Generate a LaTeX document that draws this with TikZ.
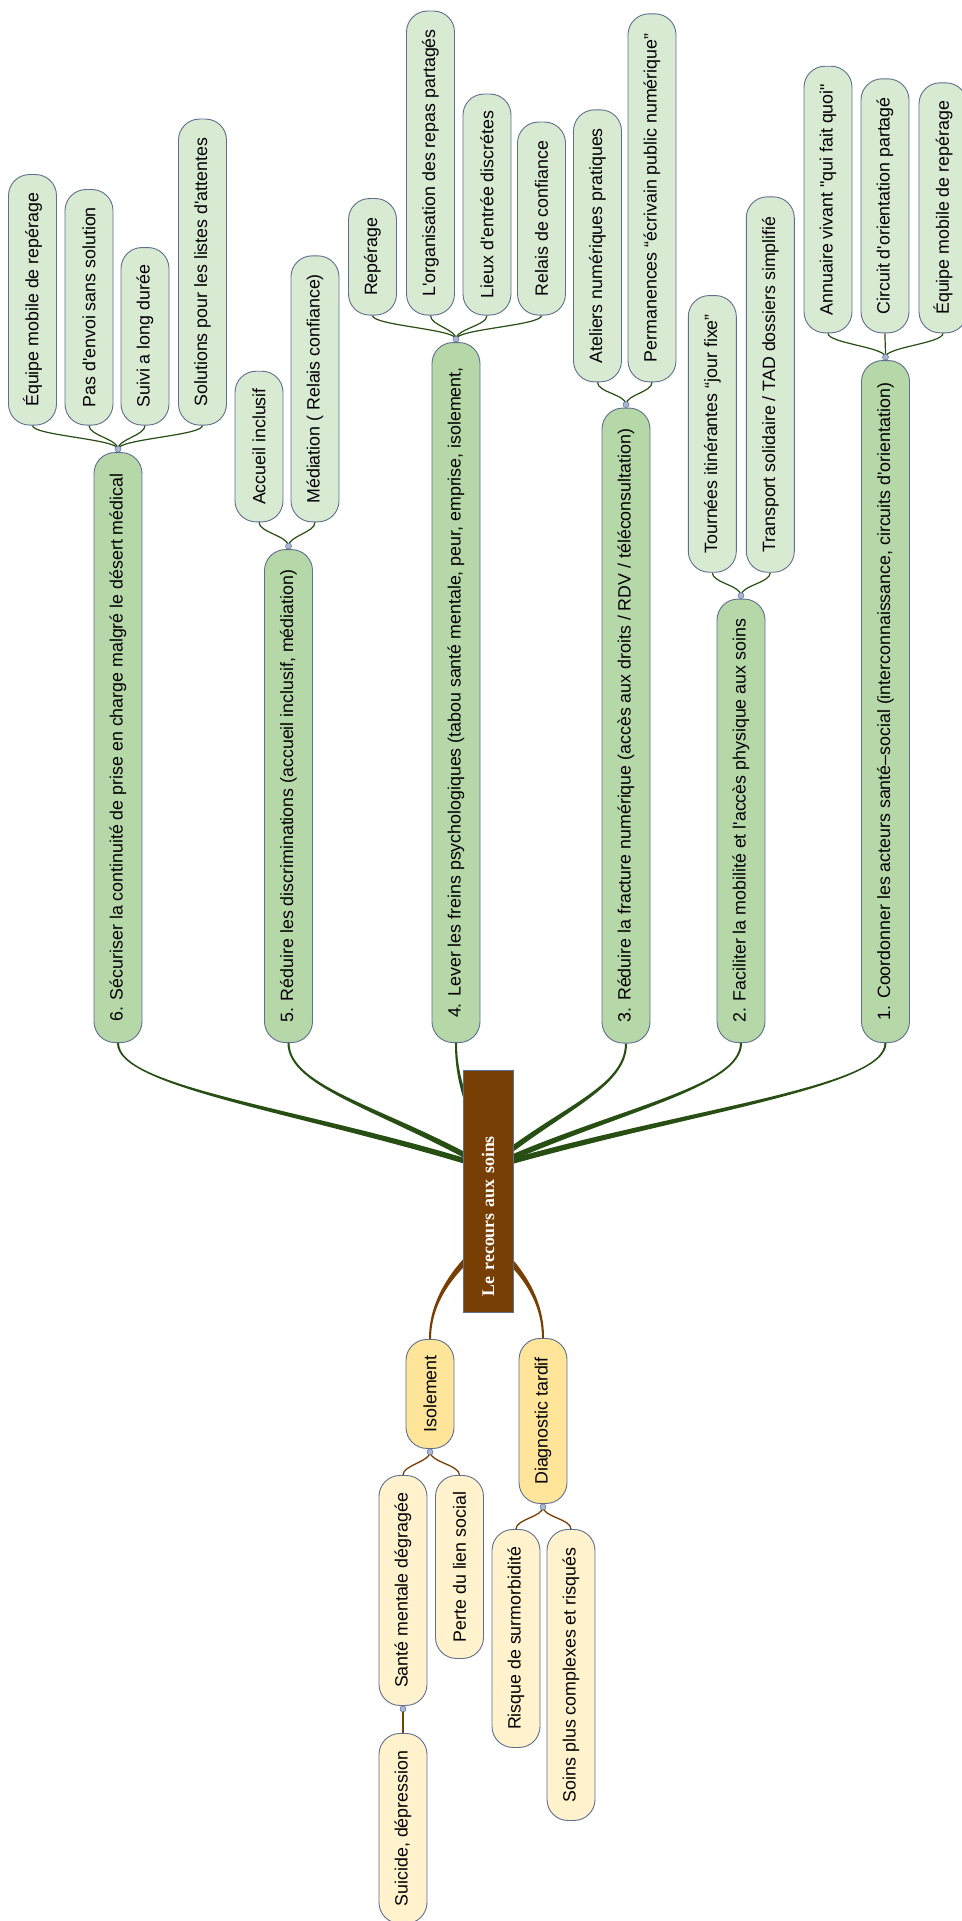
\documentclass[tikz,border=0pt]{standalone}
\usepackage{fontspec}
\setmainfont{Liberation Sans}[Ligatures=TeXOff]
\newfontfamily\boxfont{Liberation Serif}[Ligatures=TeXOff]
\usetikzlibrary{calc}
\definecolor{mg}{HTML}{B6D7A8}
\definecolor{lg}{HTML}{D9EAD3}
\definecolor{ytwo}{HTML}{FFE599}
\definecolor{ythree}{HTML}{FFF2CC}
\definecolor{brn}{HTML}{783F04}
\definecolor{dg}{HTML}{274E13}
\definecolor{bd}{HTML}{5F6F8F}
\definecolor{dotc}{HTML}{A9B8D6}
\pgfdeclarelayer{bgzero}
\pgfdeclarelayer{background}
\pgfsetlayers{bgzero,background,main}
% tapered branch: #1 tip, #2 tip control offset, #3 root control, #4 root, #5 colour, #6 half width at root
\newcommand{\tbranch}[6]{%
  \coordinate (tT) at (#1);
  \coordinate (tC) at ($(#1)+#2$);
  \fill[#5] ($(tT)!1pt!90:(tC)$) .. controls ($(tC)!1.2pt!-90:(tT)$) and ($(#3)!#6!90:(#4)$) .. ($(#4)!#6!-90:(#3)$)
    -- ($(#4)!#6!90:(#3)$) .. controls ($(#3)!#6!-90:(#4)$) and ($(tC)!1.2pt!90:(tT)$) .. ($(tT)!1pt!-90:(tC)$) -- cycle;}
\begin{document}
\begin{tikzpicture}[x=1pt,y=-1pt,
  pill/.style={draw=bd, line width=0.9pt, rounded corners=21pt, rotate=90, minimum height=48pt,
    inner xsep=4pt, inner ysep=0pt, font=\fontsize{17.8}{20}\selectfont, text=black},
  mainb/.style={pill, fill=mg, anchor=west},
  leafb/.style={pill, fill=lg, anchor=west},
  yelb/.style={pill, fill=ytwo, anchor=east},
  yleaf/.style={pill, fill=ythree, anchor=east},
  dotn/.style={circle, inner sep=0pt, minimum size=6pt, fill=dotc, draw=bd, line width=0.5pt},
  gthin/.style={draw=dg, line width=1.2pt},
  bthin/.style={draw=brn, line width=1.3pt},
]
\useasboundingbox (0,0) rectangle (961,1921);
\begin{pgfonlayer}{bgzero}
\fill[white] (0,0) rectangle (961,1921);
\end{pgfonlayer}

% main branches
\node[mainb, minimum width=590pt] (b6) at (118,1043) {6. Sécuriser la continuité de prise en charge malgré le désert médical};
\node[mainb, minimum width=493pt] (b5) at (288.5,1043) {5. Réduire les discriminations (accueil inclusif, médiation)};
\node[mainb, minimum width=700pt] (b4) at (456,1043) {4. Lever les freins psychologiques (tabou santé mentale, peur, emprise, isolement,};
\node[mainb, minimum width=635pt] (b3) at (626,1043.5) {3. Réduire la fracture numérique (accès aux droits / RDV / téléconsultation)};
\node[mainb, minimum width=443.5pt] (b2) at (741,1043) {2. Faciliter la mobilité et l'accès physique aux soins};
\node[mainb, minimum width=682pt] (b1) at (885.5,1043) {1. Coordonner les acteurs santé–social (interconnaissance, circuits d'orientation)};

% leaves of 6
\node[leafb, minimum width=250.5pt] (l61) at (32.5,425.5) {Équipe mobile de repérage};
\node[leafb, minimum width=235.5pt] (l62) at (89,425.5) {Pas d'envoi sans solution};
\node[leafb, minimum width=177.5pt] (l63) at (145,425.5) {Suivi a long durée};
\node[leafb, minimum width=306pt] (l64) at (202.5,425.5) {Solutions pour les listes d'attentes};
% leaves of 5
\node[leafb, minimum width=150.6pt] (l51) at (259,522.3) {Accueil inclusif};
\node[leafb, minimum width=266pt] (l52) at (315,522.3) {Médiation ( Relais confiance)};
% leaves of 4
\node[leafb, minimum width=116.5pt] (l41) at (372.5,315.5) {Repérage};
\node[leafb, minimum width=304pt] (l42) at (430.5,315.5) {L'organisation des repas partagés};
\node[leafb, minimum width=221pt] (l43) at (487,315.5) {Lieux d'entrée discrétes};
\node[leafb, minimum width=193pt] (l44) at (541.5,315.5) {Relais de confiance};
% leaves of 3
\node[leafb, minimum width=272pt] (l31) at (597.5,382.3) {Ateliers numériques pratiques};
\node[leafb, minimum width=368pt] (l32) at (652,382.3) {Permanences “écrivain public numérique”};
% leaves of 2
\node[leafb, minimum width=276.7pt] (l21) at (712.3,572.7) {Tournées itinérantes “jour fixe”};
\node[leafb, minimum width=375.4pt] (l22) at (770.3,572.7) {Transport solidaire / TAD dossiers simplifié};
% leaves of 1
\node[leafb, minimum width=266.6pt] (l11) at (828,333.3) {Annuaire vivant "qui fait quoi"};
\node[leafb, minimum width=254pt] (l12) at (885,333.3) {Circuit d'orientation partagé};
\node[leafb, minimum width=250pt] (l13) at (943,333.3) {Équipe mobile de repérage};

% lower part
\node[yelb, minimum width=109pt] (iso) at (430,1339) {Isolement};
\node[yelb, minimum width=165pt] (diag) at (543,1338) {Diagnostic tardif};
\node[yleaf, minimum width=230pt] (s1) at (403,1475) {Santé mentale dégragée};
\node[yleaf, minimum width=183pt] (s2) at (459.5,1475) {Perte du lien social};
\node[yleaf, minimum width=218pt] (s3) at (516,1529) {Risque de surmorbidité};
\node[yleaf, minimum width=291pt] (s4) at (571,1529) {Soins plus complexes et risqués};
\node[yleaf, minimum width=190pt] (s5) at (403,1733) {Suicide, dépression};

% central box
\node[draw=bd, line width=0.8pt, fill=brn, rotate=90, minimum width=242pt, minimum height=50pt,
  text width=210pt, align=left, inner xsep=16pt, inner ysep=0pt,
  font=\boxfont\bfseries\fontsize{17.8}{20}\selectfont, text=white] (root) at (488,1191) {Le recours aux soins};

% dots
\node[dotn] (d6) at ($(b6.east)+(0,-3)$) {};
\node[dotn] (d5) at ($(b5.east)+(0,-3)$) {};
\node[dotn] (d4) at ($(b4.east)+(0,-3)$) {};
\node[dotn] (d3) at ($(b3.east)+(0,-3)$) {};
\node[dotn] (d2) at ($(b2.east)+(0,-3)$) {};
\node[dotn] (d1) at ($(b1.east)+(0,-3)$) {};
\node[dotn] (di) at ($(iso.west)+(0,3)$) {};
\node[dotn] (dd) at ($(diag.west)+(0,3)$) {};
\node[dotn] (ds) at ($(s1.west)+(0,3)$) {};

\coordinate (rg) at ($(root.center)+(0,-23)$);
\coordinate (rb) at ($(root.center)+(0,49)$);

\begin{pgfonlayer}{background}
% tapered main branches
\tbranch{b6.west}{(0,45)}{303,1110}{rg}{dg}{2.8pt}
\tbranch{b5.west}{(0,45)}{388,1110}{rg}{dg}{2.8pt}
\tbranch{b4.west}{(0,45)}{472,1110}{rg}{dg}{2.8pt}
\tbranch{b3.west}{(0,45)}{557,1110}{rg}{dg}{2.8pt}
\tbranch{b2.west}{(0,45)}{614.5,1110}{rg}{dg}{2.8pt}
\tbranch{b1.west}{(0,45)}{687,1110}{rg}{dg}{2.8pt}
\tbranch{iso.east}{(0,-45)}{462,1262}{rb}{brn}{3.5pt}
\tbranch{diag.east}{(0,-45)}{514,1262}{rb}{brn}{3.5pt}
% thin connectors
\foreach \p/\c in {d6/l61,d6/l62,d6/l63,d6/l64,d5/l51,d5/l52,d4/l41,d4/l42,d4/l43,d4/l44,d3/l31,d3/l32,d2/l21,d2/l22,d1/l11,d1/l12,d1/l13}
  \draw[gthin] (\p.center) .. controls +(0,-10) and +(0,10) .. (\c.west);
\foreach \p/\c in {di/s1,di/s2,dd/s3,dd/s4}
  \draw[bthin] (\p.center) .. controls +(0,10) and +(0,-10) .. (\c.east);
\draw[brn, line width=2pt] (ds.center) -- (s5.east);
\end{pgfonlayer}
\end{tikzpicture}
\end{document}
